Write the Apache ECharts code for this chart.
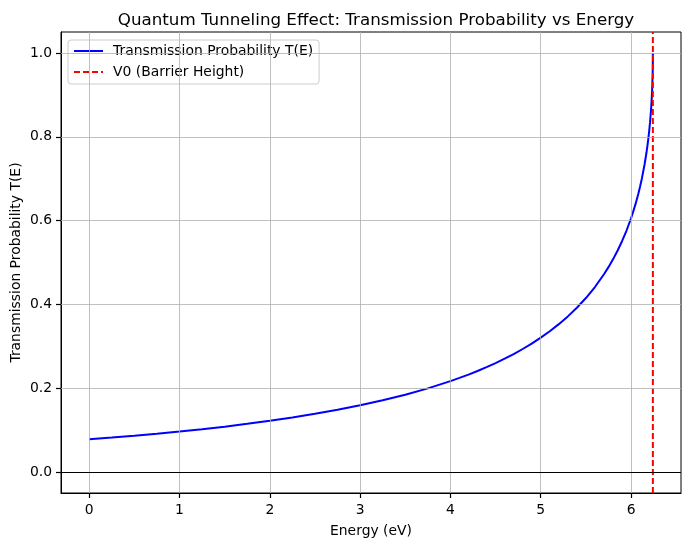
<!DOCTYPE html>
<html><head><meta charset="utf-8">
<script src="https://cdn.jsdelivr.net/npm/echarts@6/dist/echarts.min.js"></script>
<style>html,body{margin:0;padding:0;background:#fff}#c{width:691px;height:547px}</style>
</head><body><div id="c"></div>
<script>
// Energy values (eV) and transmission probability
const energy = [0, 0.25, 0.5, 0.75, 1, 1.25, 1.5, 1.75, 2, 2.25, 2.5, 2.75, 3, 3.25, 3.5, 3.75, 4, 4.1, 4.2, 4.3, 4.4, 4.5, 4.6, 4.7, 4.8, 4.9, 5, 5.1, 5.2, 5.3, 5.4, 5.5, 5.6, 5.7, 5.75, 5.8, 5.85, 5.9, 5.95, 6.0, 6.02, 6.05, 6.08, 6.1, 6.12, 6.15, 6.17, 6.18, 6.19, 6.2, 6.21, 6.22, 6.225, 6.23, 6.233, 6.236, 6.239, 6.24, 6.241, 6.2415];
const transmission = [0.0781, 0.0822, 0.0867, 0.0915, 0.0966, 0.1022, 0.1083, 0.1150, 0.1222, 0.1301, 0.1389, 0.1485, 0.1592, 0.1711, 0.1845, 0.1997, 0.2169, 0.2246, 0.2326, 0.2412, 0.2503, 0.2600, 0.2704, 0.2816, 0.2936, 0.3066, 0.3207, 0.3360, 0.3529, 0.3714, 0.3921, 0.4152, 0.4415, 0.4719, 0.4889, 0.5075, 0.5280, 0.5508, 0.5763, 0.6056, 0.6186, 0.6398, 0.6635, 0.6812, 0.7006, 0.7344, 0.7612, 0.7764, 0.7932, 0.8123, 0.8343, 0.8610, 0.8771, 0.8964, 0.9102, 0.9271, 0.9503, 0.9613, 0.9775, 1.0];
const V0 = 6.2415;
const xTicks = [0, 1, 2, 3, 4, 5, 6];
const yTicks = [0, 0.2, 0.4, 0.6, 0.8, 1.0];
const xRange = [-0.312, 6.553];
const yRange = [-0.05, 1.05];

const FONT = 'DejaVu Sans';
const chart = echarts.init(document.getElementById('c'), null, {renderer: 'canvas'});
const curve = energy.map((e, i) => [e, transmission[i]]);

chart.setOption({
  animation: false,
  backgroundColor: '#fff',
  title: {
    text: 'Quantum Tunneling Effect: Transmission Probability vs Energy',
    left: 371, top: 7, textAlign: 'center',
    textStyle: {fontFamily: FONT, fontSize: 16.7, fontWeight: 'normal', color: '#000'}
  },
  grid: {left: 61, right: 10, top: 32, bottom: 54, containLabel: false, outerBoundsMode: 'none',
    show: true, borderColor: '#000', borderWidth: 1, backgroundColor: 'transparent'},
  legend: {
    data: ['Transmission Probability T(E)', 'V0 (Barrier Height)'],
    orient: 'vertical', left: 68, top: 40,
    itemWidth: 29, itemHeight: 14, itemGap: 7,
    padding: [4, 6, 5, 5],
    itemStyle: {opacity: 0},
    backgroundColor: 'rgba(255,255,255,0.8)', borderColor: '#cccccc', borderWidth: 1, borderRadius: 3,
    textStyle: {fontFamily: FONT, fontSize: 13.9, color: '#000', padding: [0, 0, 0, 5]}
  },
  xAxis: {
    type: 'value', min: xRange[0], max: xRange[1],
    name: 'Energy (eV)', nameLocation: 'middle', nameGap: 31, nameMoveOverlap: false,
    nameTextStyle: {fontFamily: FONT, fontSize: 13.9, color: '#000'},
    axisLine: {show: true, onZero: false, lineStyle: {color: '#000', width: 1}},
    splitLine: {show: false},
    axisTick: {show: true, customValues: xTicks, length: 5, lineStyle: {color: '#000', width: 1.2}},
    axisLabel: {customValues: xTicks, fontFamily: FONT, fontSize: 13.9, color: '#000', margin: 10, formatter: v => String(Math.round(v))}
  },
  yAxis: {
    type: 'value', min: yRange[0], max: yRange[1],
    name: 'Transmission Probability T(E)', nameLocation: 'middle', nameGap: 38, nameMoveOverlap: false,
    nameTextStyle: {fontFamily: FONT, fontSize: 13.9, color: '#000'},
    axisLine: {show: true, onZero: false, lineStyle: {color: '#000', width: 1}},
    splitLine: {show: false},
    axisTick: {show: true, customValues: yTicks, length: 5, lineStyle: {color: '#000', width: 1.2}},
    axisLabel: {customValues: yTicks, fontFamily: FONT, fontSize: 13.9, color: '#000', margin: 9, formatter: v => v.toFixed(1)}
  },
  series: [
    {
      name: 'grid', type: 'line', data: [], z: 1, silent: true,
      markLine: {
        silent: true, symbol: ['none', 'none'], label: {show: false}, animation: false,
        lineStyle: {color: '#b0b0b0', width: 0.8, type: 'solid'},
        emphasis: {disabled: true},
        data: xTicks.map(v => ({xAxis: v})).concat(yTicks.map(v => ({yAxis: v})))
      }
    },
    {
      name: 'Transmission Probability T(E)', type: 'line', data: curve, z: 3,
      showSymbol: false, symbol: 'none', smooth: false,
      lineStyle: {color: '#0000ff', width: 2}, itemStyle: {color: '#0000ff'}
    },
    {
      name: 'V0 (Barrier Height)', type: 'line', data: [[V0, yRange[0]], [V0, yRange[1]]], z: 4,
      showSymbol: false, symbol: 'none',
      lineStyle: {color: '#ff0000', width: 2, type: [6, 3]}, itemStyle: {color: '#ff0000'}
    },
    {
      name: 'zero', type: 'line', data: [], z: 5, silent: true,
      markLine: {
        silent: true, symbol: ['none', 'none'], label: {show: false}, animation: false,
        lineStyle: {color: '#000', width: 1.2, type: 'solid'},
        data: [{yAxis: 0}]
      }
    }
  ]
});
</script>
</body></html>
